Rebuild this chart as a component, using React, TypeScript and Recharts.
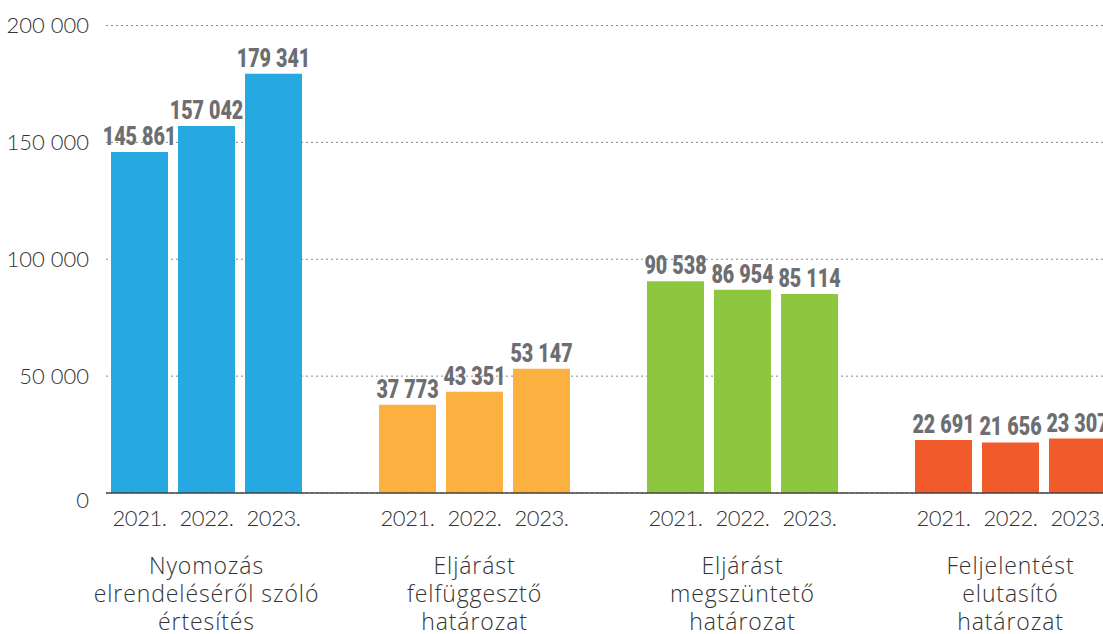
import React from 'react';
import { BarChart, Bar, XAxis, YAxis, CartesianGrid, Cell, LabelList } from 'recharts';

const years = ['2021.', '2022.', '2023.'];
const groupNames = [
  ['Nyomozás', 'elrendeléséről szóló', 'értesítés'],
  ['Eljárást', 'felfüggesztő', 'határozat'],
  ['Eljárást', 'megszüntető', 'határozat'],
  ['Feljelentést', 'elutasító', 'határozat'],
];
const nyomozasElrendeles = [145861, 157042, 179341];
const eljarasFelfuggeszto = [37773, 43351, 53147];
const eljarasMegszunteto = [90538, 86954, 85114];
const feljelentesElutasito = [22691, 21656, 23307];
const groupColors = ['#26A8E0', '#FBB040', '#8DC63F', '#F15A2B'];
const yTicks = [0, 50000, 100000, 150000, 200000];

type Row = { id: string; value: number | null; year: string | null; group: number; pos: number };

const groupValues = [nyomozasElrendeles, eljarasFelfuggeszto, eljarasMegszunteto, feljelentesElutasito];
const rows: Row[] = [];
groupValues.forEach((vals, g) => {
  vals.forEach((v, i) => rows.push({ id: `g${g}-${i}`, value: v, year: years[i], group: g, pos: i }));
  if (g < groupValues.length - 1) rows.push({ id: `sp${g}`, value: null, year: null, group: g, pos: -1 });
});
const rowById: Record<string, Row> = {};
rows.forEach((r) => (rowById[r.id] = r));

const fmt = (v: number) => String(v).replace(/\B(?=(\d{3})+(?!\d))/g, ' ');

const lightFont = 'Lato, "Open Sans", sans-serif';
const nameFont = '"Open Sans", Lato, sans-serif';
const boldFont = 'Roboto, "DejaVu Sans", sans-serif';

const XTick = (props: any) => {
  const { x, y, payload } = props;
  const row = rowById[payload?.value];
  if (!row || row.year == null) return <g />;
  return (
    <g>
      <text x={x} y={y + 33} textAnchor="middle" fontFamily={lightFont} fontWeight={300} fontSize={22} letterSpacing={-0.4} fill="#333">
        {row.year}
      </text>
      {row.pos === 1 &&
        groupNames[row.group].map((line, i) => (
          <text key={i} x={x} y={y + 81 + i * 28} textAnchor="middle" fontFamily={nameFont} fontWeight={300} fontSize={23} letterSpacing={0.9} fill="#333">
            {line}
          </text>
        ))}
    </g>
  );
};

const YTick = (props: any) => {
  const { x, y, payload } = props;
  const v = Number(payload?.value);
  return (
    <text x={x} y={y + (v === 0 ? 7 : 0)} dy="0.355em" textAnchor="end" fontFamily={lightFont} fontWeight={300} fontSize={22} fill="#333">
      {fmt(v)}
    </text>
  );
};

const ValueLabel = (props: any) => {
  const { x, y, width, value } = props;
  if (value == null) return null;
  const cx = Number(x) + Number(width) / 2;
  const ty = Number(y) - 7;
  return (
    <text transform={`translate(${cx},${ty}) scale(0.76,1)`} x={0} y={0} textAnchor="middle" fontFamily={boldFont} fontWeight={900} fontSize={26} fill="#6D6E71">
      {fmt(value)}
    </text>
  );
};

export default function App() {
  return (
    <div style={{ position: 'fixed', left: 0, top: 0, width: 1103, height: 634, overflow: 'hidden', background: '#fff' }}>
      <BarChart width={1111} height={634} data={rows} margin={{ top: 25.5, right: 0, bottom: 0, left: 0 }} barCategoryGap={5}>
        <CartesianGrid vertical={false} stroke="#888" strokeDasharray="2 3" />
        <XAxis dataKey="id" interval={0} tick={<XTick />} tickLine={false} tickSize={0} tickMargin={0} height={141} axisLine={{ stroke: '#444', strokeWidth: 1.5 }} />
        <YAxis
          width={106}
          domain={[0, 200000]}
          ticks={yTicks}
          axisLine={false}
          tickLine={false}
          tickSize={0}
          tickMargin={17}
          tick={<YTick />}
        />
        <Bar dataKey="value" isAnimationActive={false}>
          {rows.map((r) => (
            <Cell key={r.id} fill={groupColors[r.group]} />
          ))}
          <LabelList dataKey="value" content={<ValueLabel />} />
        </Bar>
      </BarChart>
    </div>
  );
}
